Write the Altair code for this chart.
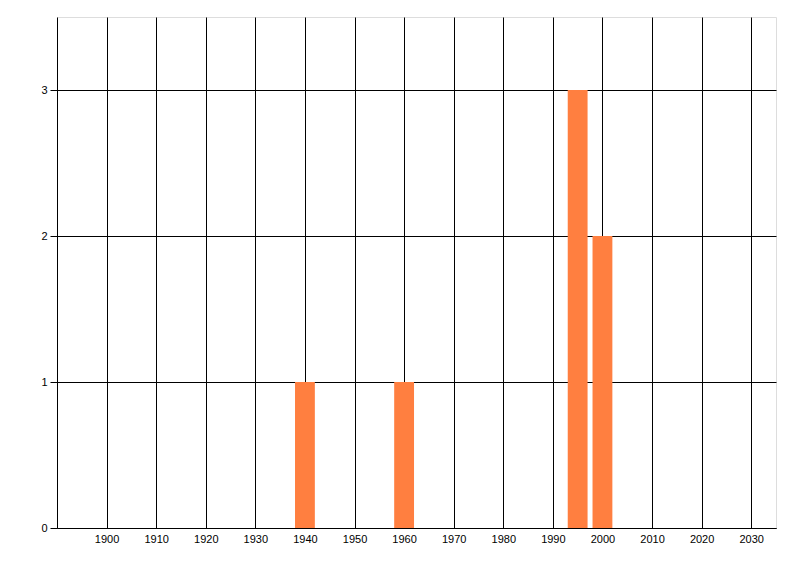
import altair as alt
import pandas as pd

years = [1940, 1960, 1995, 2000]
counts = [1, 1, 3, 2]
x_ticks = [1900, 1910, 1920, 1930, 1940, 1950, 1960, 1970, 1980, 1990, 2000, 2010, 2020, 2030]
y_ticks = [0, 1, 2, 3]

df = pd.DataFrame({"year": years, "count": counts})

FONT = "Liberation Sans"

chart = (
    alt.Chart(df)
    .transform_calculate(x0="datum.year - 2", x1="datum.year + 2", base="0")
    .mark_rect(color="#FF7F40", opacity=1)
    .encode(
        x=alt.X(
            "x0:Q",
            scale=alt.Scale(domain=[1890, 2035], nice=False, zero=False, padding=0),
            axis=alt.Axis(
                values=x_ticks,
                ticks=False,
                grid=True,
                gridColor="black",
                gridOpacity=1,
                gridWidth=1,
                domain=True,
                domainColor="black",
                domainWidth=1,
                labelFont=FONT,
                labelFontSize=11,
                labelColor="black",
                labelPadding=5,
                title=None,
                format="d",
            ),
        ),
        x2="x1:Q",
        y=alt.Y(
            "count:Q",
            scale=alt.Scale(domain=[0, 3.5], nice=False, padding=0),
            axis=alt.Axis(
                values=y_ticks,
                ticks=True,
                tickSize=7,
                tickColor="black",
                tickWidth=1,
                grid=True,
                gridColor="black",
                gridOpacity=1,
                gridWidth=1,
                domain=True,
                domainColor="black",
                domainWidth=1,
                labelFont=FONT,
                labelFontSize=11,
                labelColor="black",
                labelPadding=3,
                title=None,
                format="d",
            ),
        ),
        y2="base:Q",
    )
    .properties(
        width=719,
        height=511,
        autosize=alt.AutoSizeParams(type="none"),
        padding={"left": 49, "top": 9, "right": 16, "bottom": 40},
    )
    .configure_view(stroke=None)
    .configure(background="white")
)

chart.save("out.html", embed_options={"renderer": "svg", "actions": False})
